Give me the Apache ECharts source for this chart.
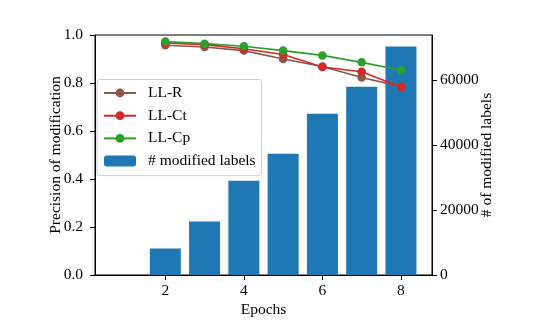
<!DOCTYPE html>
<html><head><meta charset="utf-8">
<script src="https://cdn.jsdelivr.net/npm/echarts@6/dist/echarts.min.js"></script>
<style>html,body{margin:0;padding:0;background:#fff}#c{width:541px;height:328px}</style>
</head><body><div id="c"></div>
<script>
const epochs = [1, 2, 3, 4, 5, 6, 7, 8];
const modifiedLabels = [0, 8170, 16490, 29030, 37350, 49680, 58000, 70420];
const lineEpochs = [2, 3, 4, 5, 6, 7, 8];
const llR  = [0.957, 0.950, 0.935, 0.900, 0.869, 0.823, 0.785];
const llCt = [0.967, 0.960, 0.943, 0.919, 0.867, 0.847, 0.783];
const llCp = [0.973, 0.964, 0.953, 0.935, 0.915, 0.886, 0.853];
const xTicks = [2, 4, 6, 8];
const leftTicks = [0, 0.2, 0.4, 0.6, 0.8, 1.0];
const rightTicks = [0, 20000, 40000, 60000];

const font = 'Liberation Serif';
const fs = 15.5;
const pair = (xs, ys) => xs.map((x, i) => [x, ys[i]]);
const lineSeries = (name, data, color) => ({
  name, type: 'line', yAxisIndex: 0, data: pair(lineEpochs, data),
  symbol: 'circle', symbolSize: 8.5, z: 5,
  lineStyle: { color, width: 1.6 }, itemStyle: { color }
});

const chart = echarts.init(document.getElementById('c'), null, { renderer: 'canvas' });
chart.setOption({
  animation: false,
  textStyle: { fontFamily: font },
  grid: { left: 95, right: 109, top: 35, bottom: 53, show: true, borderColor: '#000', borderWidth: 1, backgroundColor: 'transparent' },
  legend: {
    orient: 'vertical', left: 97, top: 79.5,
    data: ['LL-R', 'LL-Ct', 'LL-Cp', '# modified labels'],
    itemWidth: 32, itemHeight: 11, itemGap: 6.7,
    padding: [5.5, 6, 6.5, 6],
    backgroundColor: 'rgba(255,255,255,0.8)', borderColor: '#d0d0d0', borderWidth: 1, borderRadius: 3,
    textStyle: { fontFamily: font, fontSize: fs, color: '#000', padding: [0, 0, 0, 7] }
  },
  xAxis: {
    type: 'value', min: 0.21, max: 8.79,
    name: 'Epochs', nameLocation: 'middle', nameGap: 27, nameMoveOverlap: false,
    nameTextStyle: { fontFamily: font, fontSize: fs, color: '#000' },
    axisLine: { lineStyle: { color: '#000', width: 1 } },
    axisTick: { show: true, length: 5, lineStyle: { color: '#000' }, customValues: xTicks },
    axisLabel: { fontFamily: font, fontSize: fs, color: '#000', margin: 8, customValues: xTicks },
    splitLine: { show: false }
  },
  yAxis: [
    {
      type: 'value', min: 0, max: 1, interval: 0.2, position: 'left',
      name: 'Precision of modification', nameLocation: 'middle', nameGap: 31, nameMoveOverlap: false,
      nameTextStyle: { fontFamily: font, fontSize: fs, color: '#000' },
      axisLine: { show: true, lineStyle: { color: '#000' } },
      axisTick: { show: true, length: 5, lineStyle: { color: '#000' }, customValues: leftTicks },
      axisLabel: { fontFamily: font, fontSize: fs, color: '#000', margin: 12, formatter: v => v.toFixed(1), customValues: leftTicks },
      splitLine: { show: false }
    },
    {
      type: 'value', min: 0, max: 73940, position: 'right',
      name: '# of modified labels', nameLocation: 'middle', nameGap: 47, nameRotate: 90, nameMoveOverlap: false,
      nameTextStyle: { fontFamily: font, fontSize: fs, color: '#000' },
      axisLine: { show: true, lineStyle: { color: '#000' } },
      axisTick: { show: true, length: 5, lineStyle: { color: '#000' }, customValues: rightTicks },
      axisLabel: { fontFamily: font, fontSize: fs, color: '#000', margin: 8, formatter: v => String(v), customValues: rightTicks },
      splitLine: { show: false }
    }
  ],
  series: [
    {
      name: '# modified labels', type: 'bar', yAxisIndex: 1, barWidth: 31, z: 2,
      data: pair(epochs, modifiedLabels),
      itemStyle: { color: '#1f77b4' }
    },
    lineSeries('LL-R', llR, '#8c564b'),
    lineSeries('LL-Ct', llCt, '#d62728'),
    lineSeries('LL-Cp', llCp, '#2ca02c')
  ]
});
</script></body></html>
